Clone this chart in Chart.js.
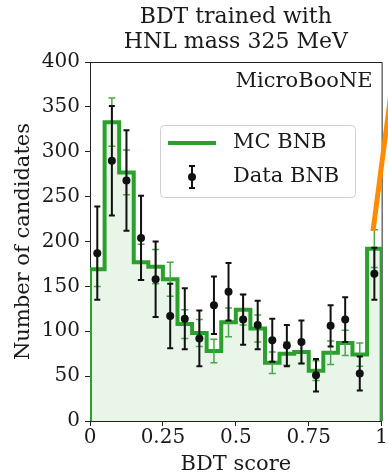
<!DOCTYPE html>
<html>
<head>
<meta charset="utf-8">
<script src="https://cdn.jsdelivr.net/npm/chart.js@4"></script>
<style>
  html, body { margin: 0; padding: 0; background: #fff; }
  #grafico { display: block; }
</style>
</head>
<body>
<canvas id="grafico" width="388" height="475"></canvas>
<script>
// Bins del BDT score (20 bins de ancho 0.05)
const bordes = [0, 0.05, 0.1, 0.15, 0.2, 0.25, 0.3, 0.35, 0.4, 0.45, 0.5,
                0.55, 0.6, 0.65, 0.7, 0.75, 0.8, 0.85, 0.9, 0.95, 1];
const centros = [0.025, 0.075, 0.125, 0.175, 0.225, 0.275, 0.325, 0.375, 0.425, 0.475,
                 0.525, 0.575, 0.625, 0.675, 0.725, 0.775, 0.825, 0.875, 0.925, 0.975];

// Simulación MC BNB y su incertidumbre
const mcBnb   = [169, 333, 277, 177, 172, 158, 108, 98, 78, 110, 124, 103, 65, 75, 77, 56, 76, 87, 74, 192];
const mcError = [19, 27, 25, 20, 19, 19, 16, 15, 13, 16, 17, 15, 12, 13, 13, 11, 13, 14, 13, 21];

// Datos BNB con barras de error
const dataBnb   = [187, 290, 268, 204, 158, 117, 114, 92, 129, 144, 113, 107, 90, 84, 88, 51, 106, 113, 53, 164];
const dataError = [52, 61, 56, 47, 42, 36, 34, 31, 32, 32, 28, 27, 24, 23, 24, 18, 23, 25, 19, 29];

const ticksX = [0, 0.25, 0.5, 0.75, 1];
const ticksY = [0, 50, 100, 150, 200, 250, 300, 350, 400];

const titulo = ['BDT trained with', 'HNL mass 325 MeV'];
const fuente = 'DejaVu Serif';
const tinta = '#1a1a1a';
const verde = '#2ca02c';

// Puntos del histograma escalonado (cerrado en 0 por ambos lados)
const escalon = [{ x: bordes[0], y: 0 }];
mcBnb.forEach((v, i) => escalon.push({ x: bordes[i], y: v }));
escalon.push({ x: bordes[bordes.length - 1], y: mcBnb[mcBnb.length - 1] });
escalon.push({ x: bordes[bordes.length - 1], y: 0 });

const puntosData = centros.map((c, i) => ({ x: c, y: dataBnb[i] }));

function barra(ctx, x, y1, y2, media) {
  ctx.beginPath();
  ctx.moveTo(x, y1); ctx.lineTo(x, y2);
  ctx.moveTo(x - media, y1); ctx.lineTo(x + media, y1);
  ctx.moveTo(x - media, y2); ctx.lineTo(x + media, y2);
  ctx.stroke();
}

// Barras de error, marco, leyenda y textos extra
const extras = {
  id: 'extras',
  afterDatasetDraw(chart, args) {
    if (args.index !== 1) return;
    const { ctx, scales: { x, y } } = chart;
    ctx.save();
    ctx.strokeStyle = '#4aa84a';
    ctx.lineWidth = 1.5;
    centros.forEach((c, i) => {
      barra(ctx, x.getPixelForValue(c), y.getPixelForValue(mcBnb[i] + mcError[i]),
            y.getPixelForValue(mcBnb[i] - mcError[i]), 3.5);
    });
    ctx.strokeStyle = '#111';
    ctx.lineWidth = 2;
    centros.forEach((c, i) => {
      barra(ctx, x.getPixelForValue(c), y.getPixelForValue(dataBnb[i] + dataError[i]),
            y.getPixelForValue(dataBnb[i] - dataError[i]), 3);
    });
    ctx.restore();
  },
  afterDraw(chart) {
    const { ctx, chartArea: a } = chart;
    ctx.save();
    // marco superior y derecho
    ctx.strokeStyle = '#222';
    ctx.lineWidth = 1;
    ctx.beginPath();
    ctx.moveTo(a.left, a.top + 0.5); ctx.lineTo(a.right + 0.5, a.top + 0.5);
    ctx.lineTo(a.right + 0.5, a.bottom);
    ctx.stroke();

    // título en dos líneas
    ctx.fillStyle = tinta;
    ctx.font = '22px "' + fuente + '"';
    ctx.textAlign = 'center';
    ctx.textBaseline = 'middle';
    const cx = (a.left + a.right) / 2;
    ctx.fillText(titulo[0], cx, 17);
    ctx.fillText(titulo[1], cx, 42);

    // etiqueta del experimento
    ctx.font = '21px "' + fuente + '"';
    ctx.textAlign = 'right';
    ctx.fillText('MicroBooNE', a.right - 9, 82);

    // leyenda
    ctx.fillStyle = 'rgba(255,255,255,0.85)';
    ctx.strokeStyle = '#d0d0d0';
    ctx.lineWidth = 1;
    ctx.beginPath();
    ctx.roundRect(160.5, 125.5, 195, 72, 4);
    ctx.fill();
    ctx.stroke();
    ctx.strokeStyle = verde;
    ctx.lineWidth = 4;
    ctx.beginPath();
    ctx.moveTo(168, 143); ctx.lineTo(216, 143);
    ctx.stroke();
    ctx.strokeStyle = '#111';
    ctx.lineWidth = 2;
    barra(ctx, 192, 166, 188, 3);
    ctx.fillStyle = '#111';
    ctx.beginPath();
    ctx.arc(192, 177, 4, 0, Math.PI * 2);
    ctx.fill();
    ctx.fillStyle = tinta;
    ctx.font = '21px "' + fuente + '"';
    ctx.textAlign = 'left';
    ctx.fillText('MC BNB', 233, 143);
    ctx.fillText('Data BNB', 233, 177);

    // trazo naranja del panel vecino
    ctx.strokeStyle = '#ff8c00';
    ctx.lineWidth = 5;
    ctx.beginPath();
    ctx.moveTo(373, 231); ctx.lineTo(391, 93);
    ctx.stroke();
    ctx.restore();
  }
};

new Chart(document.getElementById('grafico'), {
  type: 'scatter',
  data: {
    datasets: [
      {
        label: 'Data BNB',
        data: puntosData,
        order: 0,
        pointRadius: 4,
        pointHoverRadius: 4,
        backgroundColor: '#111',
        borderColor: '#111',
        borderWidth: 0
      },
      {
        label: 'MC BNB',
        type: 'line',
        data: escalon,
        order: 1,
        stepped: 'before',
        borderColor: verde,
        borderWidth: 4,
        backgroundColor: 'rgba(44,160,44,0.1)',
        fill: 'origin',
        pointRadius: 0,
        tension: 0
      }
    ]
  },
  options: {
    responsive: false,
    animation: false,
    events: [],
    layout: { padding: { top: 62, right: 3, left: 0, bottom: 0 }, autoPadding: false },
    plugins: { legend: { display: false }, tooltip: { enabled: false } },
    scales: {
      x: {
        type: 'linear',
        min: 0, max: 1,
        afterBuildTicks: s => { s.ticks = ticksX.map(v => ({ value: v })); },
        afterFit: s => { s.height = 54; },
        ticks: {
          color: tinta, padding: 0, maxRotation: 0,
          font: { family: fuente, size: 20 },
          callback: v => String(v)
        },
        grid: { drawOnChartArea: false, drawTicks: true, tickLength: 5, color: '#222' },
        border: { display: true, color: '#222', width: 1 },
        title: {
          display: true, text: 'BDT score', color: tinta,
          font: { family: fuente, size: 21, lineHeight: 1 },
          padding: { top: 0, bottom: 0 }
        }
      },
      y: {
        min: 0, max: 400,
        afterBuildTicks: s => { s.ticks = ticksY.map(v => ({ value: v })); },
        afterFit: s => { s.width = 90; },
        ticks: {
          color: tinta, padding: 5,
          font: { family: fuente, size: 20 }
        },
        grid: { drawOnChartArea: false, drawTicks: true, tickLength: 5, color: '#222' },
        border: { display: true, color: '#222', width: 1 },
        title: {
          display: true, text: 'Number of candidates', color: tinta,
          font: { family: fuente, size: 21 },
          padding: { top: 11, bottom: 0 }
        }
      }
    }
  },
  plugins: [extras]
});
</script>
</body>
</html>
